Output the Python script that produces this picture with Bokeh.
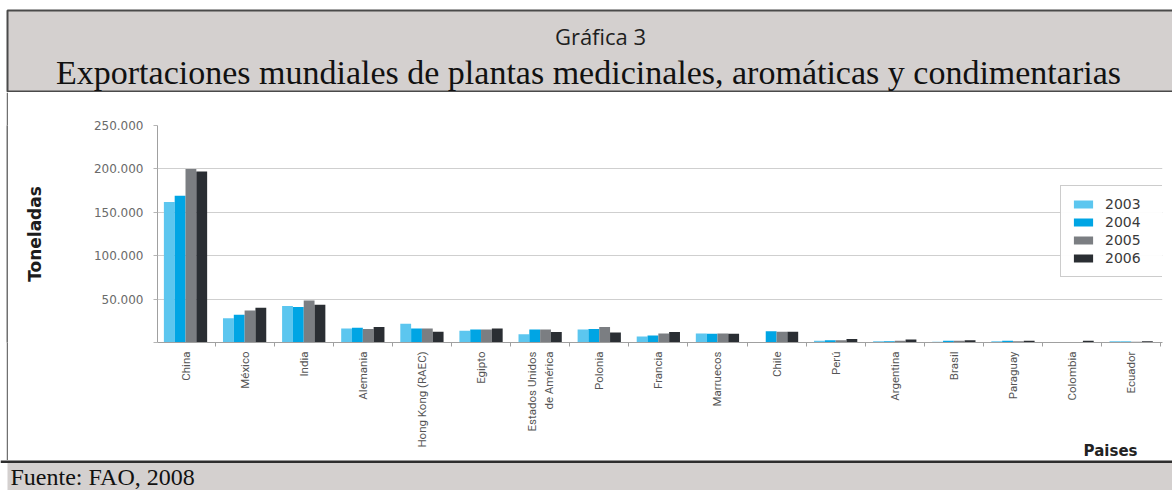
import numpy as np
from bokeh.plotting import figure
from bokeh.layouts import column, row
from bokeh.models import (Range1d, FixedTicker, ColumnDataSource, Legend, LegendItem,
                          Spacer, Title)
from bokeh.core.properties import value
from bokeh.embed import file_html
from bokeh.resources import INLINE

# --- data: exports in tonnes, 2003-2006 ---
countries = ["China", "México", "India", "Alemania", "Hong Kong (RAEC)", "Egipto",
             "Estados Unidos\nde América", "Polonia", "Francia", "Marruecos", "Chile",
             "Perú", "Argentina", "Brasil", "Paraguay", "Colombia", "Ecuador"]
years = ["2003", "2004", "2005", "2006"]
t2003 = [162000, 28000, 42000, 16000, 21500, 13500, 9500, 15000, 7000, 10500, 0,
         2000, 1500, 1000, 1500, 0, 1500]
t2004 = [169000, 32000, 41000, 17000, 16000, 15000, 15000, 15500, 8000, 10000, 13000,
         2500, 1500, 2000, 2000, 300, 1200]
t2005 = [200000, 37000, 48500, 15500, 16000, 15000, 15000, 18000, 10500, 10500, 12500,
         2500, 2000, 2000, 1500, 700, 1000]
t2006 = [197000, 40000, 43500, 18000, 12500, 16000, 12000, 11500, 12000, 10000, 12500,
         4000, 3500, 2500, 2000, 2000, 1500]
y_ticks = [0, 50000, 100000, 150000, 200000, 250000]
y_tick_labels = ["", "50.000", "100.000", "150.000", "200.000", "250.000"]

series = [t2003, t2004, t2005, t2006]
colors = ["#5cc6ef", "#00a5e4", "#7b7e82", "#2a2e33"]

W = 1172
HEAD_H, MID_H, FOOT_H = 92, 368, 30
PANEL_GRAY = "#d4d0cf"
EDGE = "#4a4a4a"
SIDE = "#707070"

# --- header band with the chart title ---
head = figure(width=W, height=HEAD_H, x_range=Range1d(0, W), y_range=Range1d(HEAD_H, 0),
              x_axis_type=None, y_axis_type=None, toolbar_location=None,
              output_backend="svg", min_border=0, outline_line_color=None)
head.grid.visible = False
head.quad(left=[7], right=[W + 20], top=[10], bottom=[91], fill_color=PANEL_GRAY,
          line_color=EDGE, line_width=2)
head.text(x=[600], y=[35], text=["Gráfica 3"], text_font=value("Open Sans"),
          text_font_size="22px", text_color="#1e1e1e", text_align="center",
          text_baseline="middle")
head.text(x=[588], y=[72], text=["Exportaciones mundiales de plantas medicinales, aromáticas y condimentarias"],
          text_font=value("Liberation Serif"), text_font_size="34px", text_color="#111111",
          text_align="center", text_baseline="middle")

# --- left frame edge of the chart area ---
gap = Spacer(width=6, height=MID_H)
edge = figure(width=2, height=MID_H, x_axis_type=None, y_axis_type=None,
              toolbar_location=None, output_backend="svg", min_border=0,
              outline_line_color=None, background_fill_color=SIDE,
              border_fill_color=SIDE)
edge.grid.visible = False

# --- main bar chart ---
n = len(countries)
idx = np.arange(n)
bar_w = 0.183
p = figure(width=W - 8, height=MID_H, x_range=Range1d(-0.474, 16.53),
           y_range=Range1d(0, 250000), toolbar_location=None, output_backend="svg",
           min_border_left=149, min_border_right=10, min_border_top=33,
           min_border_bottom=118, outline_line_color=None)

renderers = []
for k, (vals, col) in enumerate(zip(series, colors)):
    src = ColumnDataSource(dict(x=idx + (k - 1.5) * bar_w, top=vals))
    r = p.vbar(x="x", top="top", width=bar_w, source=src, fill_color=col, line_color=None)
    renderers.append(r)

p.xgrid.visible = False
p.ygrid.grid_line_color = "#cfcfcf"
p.ygrid.ticker = FixedTicker(ticks=y_ticks)

p.yaxis.ticker = FixedTicker(ticks=y_ticks)
p.yaxis.major_label_overrides = {t: s for t, s in zip(y_ticks, y_tick_labels)}
p.yaxis.axis_line_color = "#a0a0a0"
p.yaxis.major_tick_line_color = "#b5b5b5"
p.yaxis.major_tick_out = 4
p.yaxis.major_tick_in = 0
p.yaxis.minor_tick_line_color = None
p.yaxis.major_label_standoff = 10
p.yaxis.major_label_text_font = "DejaVu Sans"
p.yaxis.major_label_text_font_size = "12px"
p.yaxis.major_label_text_color = "#6a6a6a"
p.yaxis.axis_label = "Toneladas"
p.yaxis.axis_label_text_font = "DejaVu Sans"
p.yaxis.axis_label_text_font_style = "bold"
p.yaxis.axis_label_text_font_size = "17px"
p.yaxis.axis_label_text_color = "#1c1c1c"
p.yaxis.axis_label_standoff = 46

p.xaxis.ticker = FixedTicker(ticks=list(range(n)),
                             minor_ticks=[i + 0.5 for i in range(-1, n)])
p.xaxis.major_label_overrides = {i: c for i, c in enumerate(countries)}
p.xaxis.major_label_orientation = np.pi / 2
p.xaxis.major_tick_out = 0
p.xaxis.major_tick_in = 0
p.xaxis.minor_tick_out = 4
p.xaxis.minor_tick_in = 0
p.xaxis.minor_tick_line_color = "#a0a0a0"
p.xaxis.axis_line_color = "#a0a0a0"
p.xaxis.major_label_standoff = 5
p.xaxis.major_label_text_font = "Roboto"
p.xaxis.major_label_text_font_size = "11.5px"
p.xaxis.major_label_text_color = "#555555"

legend = Legend(items=[LegendItem(label=y, renderers=[r]) for y, r in zip(years, renderers)],
                location=(903, 65), padding=10, spacing=2, label_height=16,
                glyph_height=10, glyph_width=24, label_standoff=10, label_width=70,
                margin=0, border_line_color="#9a9a9a", border_line_width=1,
                label_text_font="DejaVu Sans", label_text_font_size="14px",
                label_text_color="#3a3a3a", background_fill_color="white")
p.add_layout(legend, "center")

# x-axis caption, tucked into the lower right corner beside the category labels
p.add_layout(Title(text="Paises", align="right", offset=25, standoff=-18,
                   vertical_align="top", text_font="DejaVu Sans", text_font_style="bold",
                   text_font_size="15px", text_color="#222222"),
             "below")

# --- footer band with the source note ---
foot = figure(width=W, height=FOOT_H, x_range=Range1d(0, W), y_range=Range1d(FOOT_H, 0),
              x_axis_type=None, y_axis_type=None, toolbar_location=None,
              output_backend="svg", min_border=0, outline_line_color=None)
foot.grid.visible = False
foot.quad(left=[7], right=[W + 20], top=[1], bottom=[FOOT_H + 5], fill_color=PANEL_GRAY,
          line_color=None)
foot.segment(x0=[0], y0=[1], x1=[W], y1=[1], line_color="#2e2e2e", line_width=3)
foot.text(x=[10], y=[16], text=["Fuente: FAO, 2008"], text_font=value("Liberation Serif"),
          text_font_size="24px", text_color="#111111", text_align="left",
          text_baseline="middle")

layout = column(head, row(gap, edge, p, spacing=0), foot, spacing=0)
open("out.html", "w").write(file_html(layout, INLINE))
